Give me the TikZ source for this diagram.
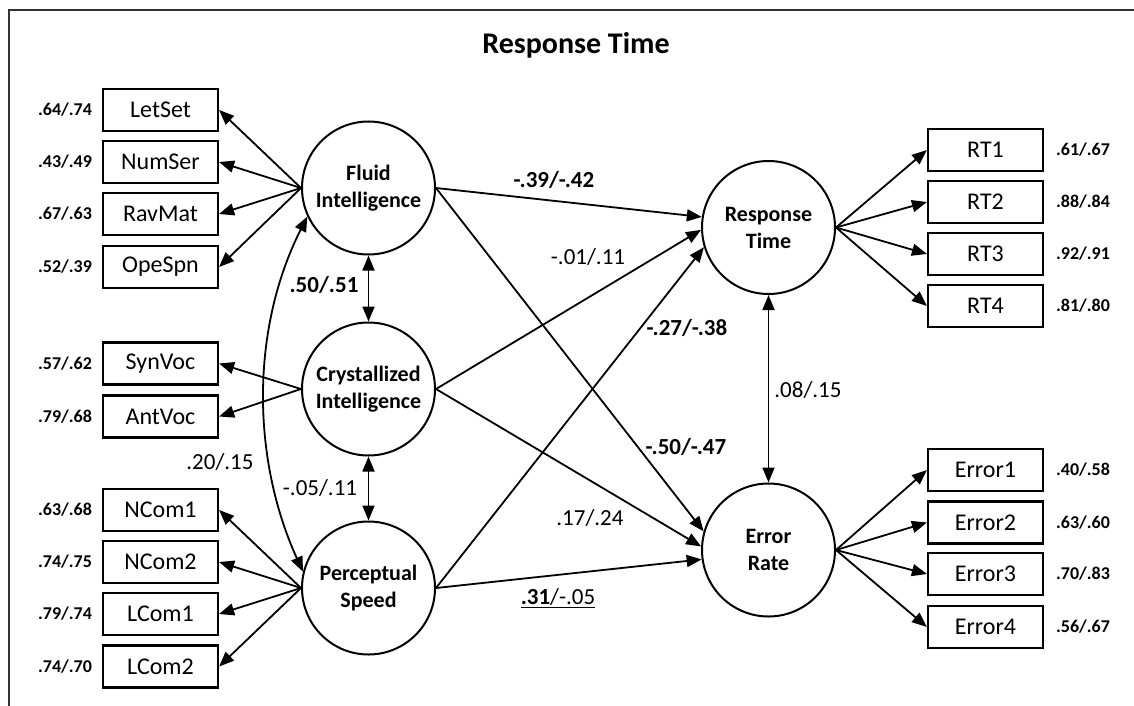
\documentclass[tikz,border=0pt]{standalone}
\usepackage{fontspec}
\setmainfont{Carlito}
\usetikzlibrary{arrows.meta}
\tikzset{latent/.style={circle,draw=black,line width=2pt,minimum size=133pt,inner sep=0pt,align=center,font=\fontsize{22}{27}\selectfont\bfseries},
 manifest/.style={draw=black,line width=2.2pt,minimum width=115pt,minimum height=42pt,inner sep=0pt,font=\fontsize{24}{28}\selectfont},
 load/.style={font=\fontsize{18}{20}\selectfont\bfseries},
 coef/.style={font=\fontsize{23}{26}\selectfont},
 arrow/.style={-{Triangle[length=15pt,width=12pt]},line width=1.8pt},
 twoway/.style={{Triangle[length=15pt,width=12pt]}-{Triangle[length=15pt,width=12pt]},line width=1.8pt}}

\begin{document}
\begin{tikzpicture}[x=1pt,y=-1pt]
 \useasboundingbox (0,0) rectangle (1134,706);
 \draw[line width=1.6pt,black!80] (1134,10) -- (9,10) -- (9,706);
 \node[font=\fontsize{30}{34}\selectfont\bfseries] (title) at (576,45) {Response Time};
 % latent variables
 \node[latent] (fluid) at (368.5,188) {Fluid\\Intelligence};
 \node[latent] (cryst) at (368.5,389) {Crystallized\\Intelligence};
 \node[latent] (perc) at (368.5,588) {Perceptual\\Speed};
 \node[latent] (rt) at (768.5,227.5) {Response\\Time};
 \node[latent] (er) at (768.5,550) {Error\\Rate};
 % indicators
 \foreach \y/\name/\a/\b in {110/LetSet/.64/.74,162/NumSer/.43/.49,214/RavMat/.67/.63,267/OpeSpn/.52/.39}{
  \node[manifest] (\name) at (160.5,\y) {\name};
  \node[load] (l\name) at (65,\y) {\a/\b};
  \draw[arrow] (fluid.west) -- (\name.east);
 }
 \foreach \y/\name/\a/\b in {363.5/SynVoc/.57/.62,416.5/AntVoc/.79/.68}{
  \node[manifest] (\name) at (160.5,\y) {\name};
  \node[load] (l\name) at (65,\y) {\a/\b};
  \draw[arrow] (cryst.west) -- (\name.east);
 }
 \foreach \y/\name/\a/\b in {510/NCom1/.63/.68,562/NCom2/.74/.75,614/LCom1/.79/.74,666.5/LCom2/.74/.70}{
  \node[manifest] (\name) at (160.5,\y) {\name};
  \node[load] (l\name) at (65,\y) {\a/\b};
  \draw[arrow] (perc.west) -- (\name.east);
 }
 \foreach \y/\name/\a/\b in {150/RT1/.61/.67,202/RT2/.88/.84,254/RT3/.92/.91,306/RT4/.81/.80}{
  \node[manifest] (\name) at (985.5,\y) {\name};
  \node[load] (l\name) at (1083,\y) {\a/\b};
  \draw[arrow] (rt.east) -- (\name.west);
 }
 \foreach \y/\name/\a/\b in {470/Error1/.40/.58,522.5/Error2/.63/.60,574/Error3/.70/.83,627/Error4/.56/.67}{
  \node[manifest] (\name) at (985.5,\y) {\name};
  \node[load] (l\name) at (1083,\y) {\a/\b};
  \draw[arrow] (er.east) -- (\name.west);
 }
 % correlations
 \draw[twoway] (fluid.south) -- (cryst.north);
 \draw[twoway] (cryst.south) -- (perc.north);
 \draw[twoway] (rt.south) -- (er.north);
 \draw[twoway] (fluid.205) .. controls (250,330) and (252,460) .. (perc.166);
 % structural paths
 \draw[arrow] (fluid.east) -- (rt.171);
 \draw[arrow] (fluid.east) -- (er.164);
 \draw[arrow] (cryst.east) -- (rt.182);
 \draw[arrow] (cryst.east) -- (er.177);
 \draw[arrow] (perc.east) -- (rt.197);
 \draw[arrow] (perc.east) -- (er.188);
 % coefficients
 \node[coef,font=\fontsize{23}{26}\selectfont\bfseries] (cfc) at (324,285) {.50/.51};
 \node[coef] (ccp) at (320,488) {-.05/.11};
 \node[coef] (cfp) at (220,462) {.20/.15};
 \node[coef] (cre) at (808,390) {.08/.15};
 \node[coef,font=\fontsize{23}{26}\selectfont\bfseries] (pfr) at (554,180) {-.39/-.42};
 \node[coef] (pcr) at (588,257) {-.01/.11};
 \node[coef,font=\fontsize{23}{26}\selectfont\bfseries] (ppr) at (687,328) {-.27/-.38};
 \node[coef,font=\fontsize{23}{26}\selectfont\bfseries] (pfe) at (686,447) {-.50/-.47};
 \node[coef] (pce) at (590,518) {.17/.24};
 \node[coef] (ppe) at (558,598) {\underline{\textbf{.31}/-.05}};
\end{tikzpicture}
\end{document}
